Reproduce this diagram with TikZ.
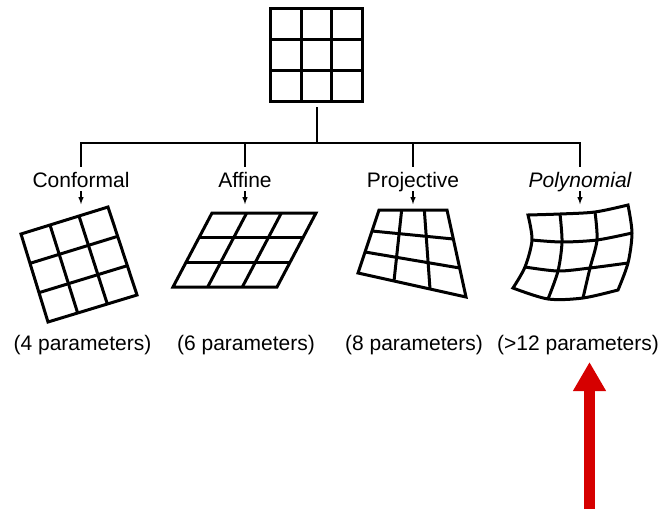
\documentclass[tikz,border=0pt]{standalone}
\usepackage{fontspec}
\setmainfont{Liberation Sans}
\usepackage{tikz}
\usetikzlibrary{arrows,arrows.meta,calc}
\definecolor{arrowred}{RGB}{214,0,0}

% 3x3 mesh between four corners: top left, top right, bottom right, bottom left
\newcommand{\warpgrid}[4]{%
  \draw[mesh] (#1) -- (#2) -- (#3) -- (#4) -- cycle;
  \foreach \i in {1,2} {
    \draw[mesh] ($(#1)!\i/3!(#4)$) -- ($(#2)!\i/3!(#3)$);
    \draw[mesh] ($(#1)!\i/3!(#2)$) -- ($(#4)!\i/3!(#3)$);
  }%
}

\begin{document}
\begin{tikzpicture}[x=1pt,y=-1pt,
        mesh/.style={line width=3pt},
        tree/.style={line width=2pt},
        tip/.style={line width=1.4pt,-latex},
        kind/.style={font=\fontsize{21}{24}\selectfont,anchor=base,
            text height=16pt,text depth=0pt,inner sep=4pt},
        count/.style={font=\fontsize{21}{24}\selectfont,anchor=base}]
        \useasboundingbox (0,0) rectangle (664,509);

        % source grid
        \node[minimum width=91pt,minimum height=92pt,inner sep=0pt] (src) at (316.5,55) {};
        \warpgrid{src.north west}{src.north east}{src.south east}{src.south west}
        \coordinate (hub) at (316.5,143);

        \node[kind] (conf) at (81,187) {Conformal};
        \node[kind] (aff) at (245,187) {Affine};
        \node[kind] (proj) at (413,187) {Projective};
        \node[kind] (poly) at (580,187) {\itshape Polynomial};

        \draw[tree] ([yshift=-6pt]src.south) -- (hub);
        \foreach \n in {conf,aff,proj,poly} {
            \draw[tree] (hub) -| (\n);
            \draw[tip] (\n.south) -- ++(0,13);
        }

        % warped grids
        \warpgrid{21,234}{108,207}{137,295}{48,322}
        \warpgrid{212,213}{316,213}{277,287}{173,287}
        \warpgrid{379,210}{447,210}{466,297}{358,273}

        %polynomial
        \draw[mesh] plot[smooth] coordinates {(528,215) (560,214) (595,212) (628,205)}
            --plot[smooth] coordinates {(628,205) (632,233) (628,263) (618,290)}
            --plot[smooth] coordinates {(618,290) (583,298) (548,299) (513,288)}
            --plot[smooth] coordinates {(513,288) (525,267) (532,240) (528,215)} -- cycle;
        \draw[mesh] plot[smooth] coordinates {(532,240) (562,242) (597,240) (632,233)};
        \draw[mesh] plot[smooth] coordinates {(525,267) (558,271) (590,268) (628,263)};
        \draw[mesh] plot[smooth] coordinates {(560,214) (562,242) (558,271) (548,299)};
        \draw[mesh] plot[smooth] coordinates {(595,212) (597,240) (590,268) (583,298)};

        \node[count] (p4) at (82.5,350) {(4 parameters)};
        \node[count] (p6) at (246,350) {(6 parameters)};
        \node[count] (p8) at (414,350) {(8 parameters)};
        \node[count] (p12) at (578,350) {(>12 parameters)};

        \coordinate (tail) at (589.5,509);
        \coordinate (mark) at (589.5,362);
        \draw[arrowred,line width=11pt,-{Triangle[length=29pt,width=31pt]}] (tail) -- (mark);
    \end{tikzpicture}
\end{document}
